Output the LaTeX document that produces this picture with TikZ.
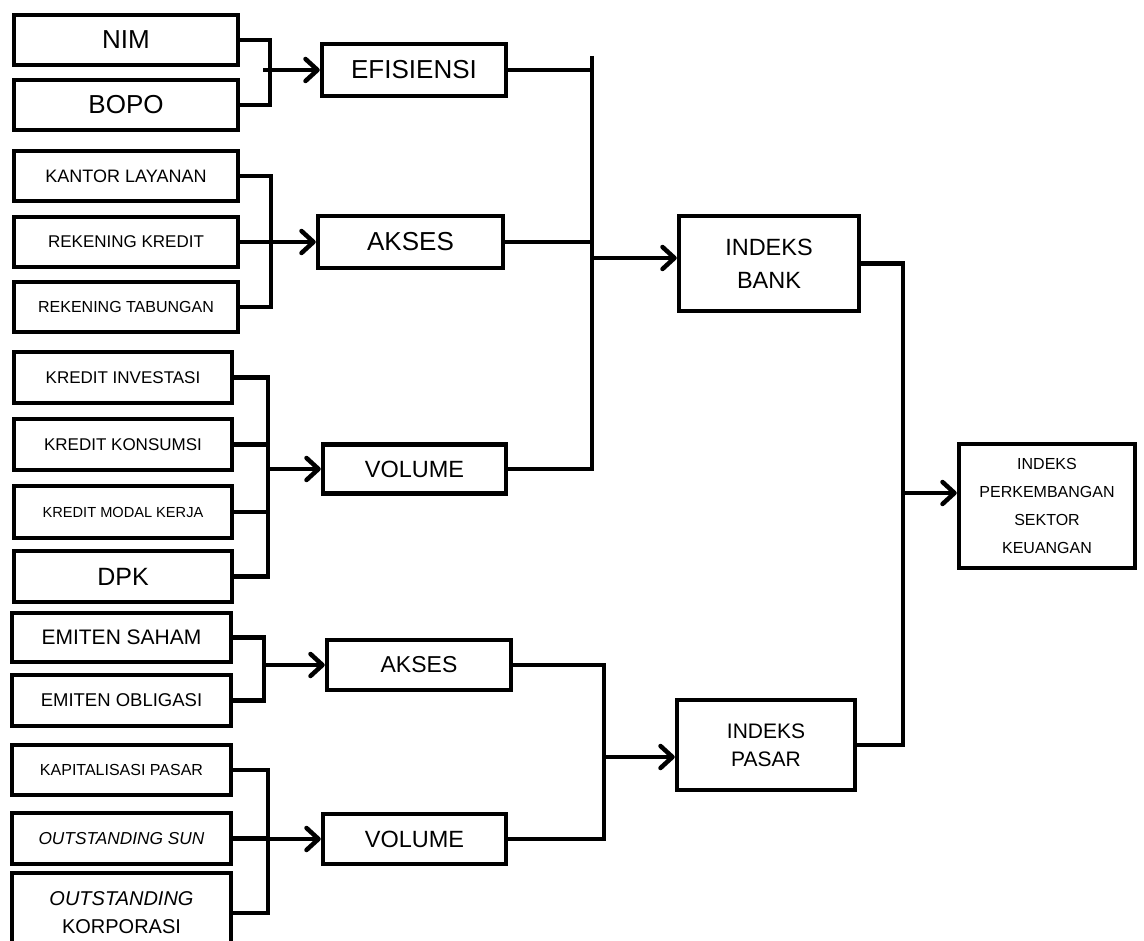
\documentclass[tikz,border=0pt]{standalone}
\usepackage{fontspec}
\setmainfont{Liberation Sans}
\usetikzlibrary{arrows.meta,positioning}

\tikzset{
  box/.style={draw,line width=4.5pt,inner sep=0pt,align=center},
  wh/.style args={#1/#2}{minimum width=#1pt,minimum height=#2pt},
  fs/.style args={#1/#2}{font=\fontsize{#1}{#2}\selectfont},
  link/.style={line width=4.5pt},
  feed/.style={line width=4.5pt,-{Straight Barb[length=12pt,width=22pt,round]}}
}

\begin{document}
\begin{tikzpicture}[x=1pt,y=-1pt]
\useasboundingbox (0,0) rectangle (1144,941);
\clip (0,0) rectangle (1144,941);

% indicators of the bank index
\node[box,wh=224/50,fs=26/31] (nim) at (126,40) {NIM};
\node[box,wh=224/50,fs=26/31] (bopo) at (126,105) {BOPO};
\node[box,wh=224/50,fs=18/22] (kantor) at (126,176) {KANTOR LAYANAN};
\node[box,wh=224/50,fs=17/21] (rekkredit) at (126,242) {REKENING KREDIT};
\node[box,wh=224/50,fs=16/20] (rektab) at (126,307) {REKENING TABUNGAN};
\node[box,wh=218/51,fs=17/21] (kinv) at (123,377.5) {KREDIT INVESTASI};
\node[box,wh=218/51,fs=17/21] (kkons) at (123,444.5) {KREDIT KONSUMSI};
\node[box,wh=218/52,fs=14.6/18] (kmodal) at (123,512) {KREDIT MODAL KERJA};
\node[box,wh=218/51,fs=25/30] (dpk) at (123,576.5) {DPK};

% indicators of the market index
\node[box,wh=219/49,fs=21/25] (esaham) at (121.5,637.5) {EMITEN SAHAM};
\node[box,wh=219/51,fs=18.5/22] (eobl) at (121.5,700.5) {EMITEN OBLIGASI};
\node[box,wh=219/50,fs=16/20] (kap) at (121.5,770) {KAPITALISASI PASAR};
\node[box,wh=219/51,fs=17.3/21] (osun) at (121.5,838.5) {\textit{OUTSTANDING SUN}};
\node[box,wh=219/80,fs=20/28] (okorp) at (121.5,913) {\textit{OUTSTANDING}\\KORPORASI};

% dimensions
\node[box,wh=184/52,fs=26/31] (efis) at (414,70) {EFISIENSI};
\node[box,wh=185/52,fs=26/31] (aksesbank) at (410.5,242) {AKSES};
\node[box,wh=183/49,fs=23.5/28] (volbank) at (414.5,469) {VOLUME};
\node[box,wh=184/50,fs=23/28] (aksespasar) at (419,665) {AKSES};
\node[box,wh=183/50,fs=23.5/28] (volpasar) at (414.5,839) {VOLUME};

% indices
\node[box,wh=180/95,fs=23.5/33] (bank) at (769,263.5) {INDEKS\\BANK};
\node[box,wh=178/90,fs=21/28] (pasar) at (766,745) {INDEKS\\PASAR};
\node[box,wh=176/124,fs=16/28] (ipsk) at (1047,506) {INDEKS\\PERKEMBANGAN\\SEKTOR\\KEUANGAN};

% brackets into the dimensions
\coordinate (e1) at (270,70);
\draw[link] (nim.east) -| (e1) |- (bopo.east);
\draw[feed] ([xshift=-7pt]e1) -- (efis.west);

\coordinate (e2) at (271,242);
\draw[link] (kantor.east) -| (e2) |- (rektab.east);
\draw[feed] (rekkredit.east) -- (aksesbank.west);

\coordinate (e3) at (268,469);
\draw[link] (kinv.east) -| (e3) |- (dpk.east);
\draw[link] (kkons.east) -- (kkons.east -| e3);
\draw[link] (kmodal.east) -- (kmodal.east -| e3);
\draw[feed] (e3) -- (volbank.west);

\coordinate (e4) at (264,665);
\draw[link] (esaham.east) -| (e4) |- (eobl.east);
\draw[feed] (e4) -- (aksespasar.west);

\coordinate (e5) at (268,839);
\draw[link] (kap.east) -| (e5) |- (okorp.east);
\draw[link] (osun.east) -- (osun.east -| e5);
\draw[feed] (e5) -- (volpasar.west);

% brackets into the indices
\coordinate (b0) at (592,56);
\coordinate (b1) at (592,258);
\draw[link] (b0) |- (volbank.east);
\draw[link] (efis.east) -- (efis.east -| b0);
\draw[link] (aksesbank.east) -- (aksesbank.east -| b0);
\draw[feed] (b1) -- (b1 -| bank.west);

\coordinate (p1) at (604,757);
\draw[link] (aksespasar.east) -| (p1) |- (volpasar.east);
\draw[feed] (p1) -- (p1 -| pasar.west);

\coordinate (t1) at (903,493);
\draw[link] (bank.east) -| (t1) |- (pasar.east);
\draw[feed] (t1) -- (t1 -| ipsk.west);
\end{tikzpicture}
\end{document}
